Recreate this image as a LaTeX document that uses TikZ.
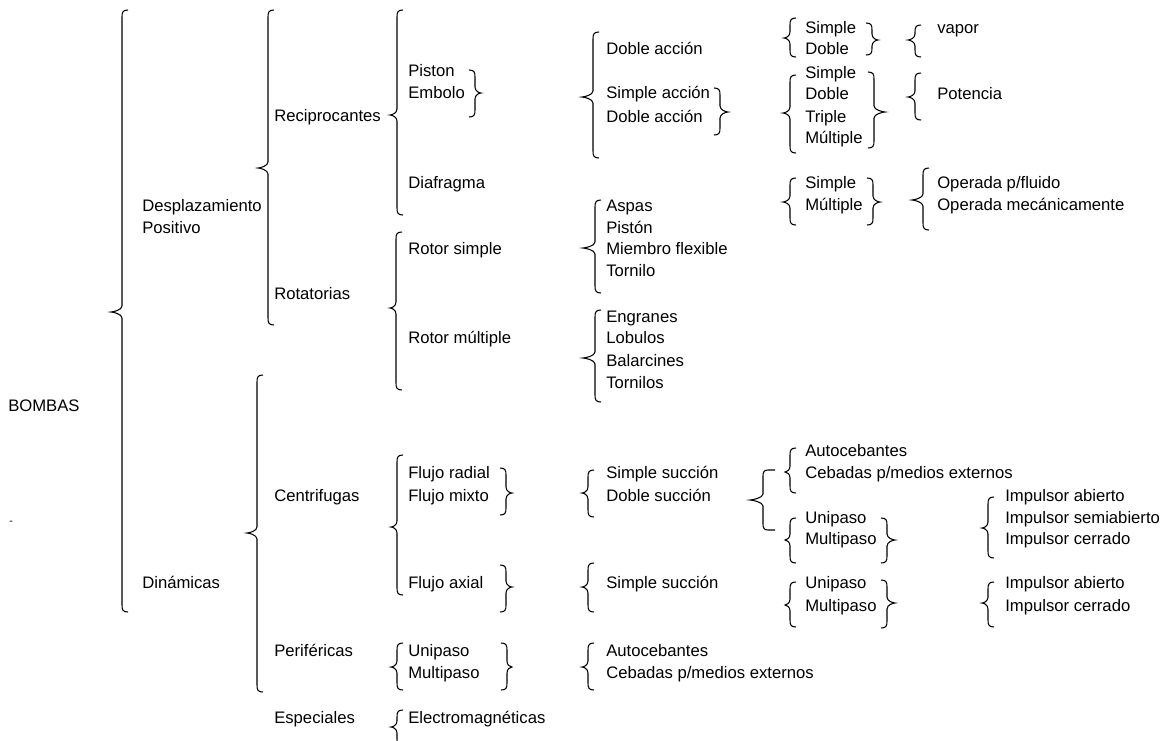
\documentclass[tikz,border=0pt]{standalone}
\usepackage{fontspec}
\setmainfont{Liberation Sans}
\newcommand\mybl[5]{%
 \draw[brc] ({#1+6},#3) .. controls ({#1+1},#3) and (#1,{#3+2}) .. (#1,{#3+7})
   -- (#1,{#4-6}) .. controls (#1,{#4-2}) and ({#2+2},#4) .. (#2,#4)
   .. controls ({#2+2},#4) and (#1,{#4+2}) .. (#1,{#4+6})
   -- (#1,{#5-7}) .. controls (#1,{#5-2}) and ({#1+1},#5) .. ({#1+6},#5);}
\newcommand\mybr[5]{%
 \draw[brc] ({#1-6},#3) .. controls ({#1-1},#3) and (#1,{#3+2}) .. (#1,{#3+7})
   -- (#1,{#4-6}) .. controls (#1,{#4-2}) and ({#2-2},#4) .. (#2,#4)
   .. controls ({#2-2},#4) and (#1,{#4+2}) .. (#1,{#4+6})
   -- (#1,{#5-7}) .. controls (#1,{#5-2}) and ({#1-1},#5) .. ({#1-6},#5);}
\newcommand\lb[4]{\node[lbl] (#1) at (#2,{#3+6}) {#4};}
\begin{document}
\begin{tikzpicture}[x=0.75pt,y=-0.75pt,
  brc/.style={line width=0.8pt,black},
  lbl/.style={anchor=base west,inner sep=0pt,font=\fontsize{12.5}{15}\selectfont}]
\useasboundingbox[fill=white] (0,0) rectangle (1167,740);
% level 0/1
\lb{bombas}{8}{405}{BOMBAS}
\node[lbl,font=\fontsize{8}{9}\selectfont] (dash) at (9,524) {-};
\lb{despl}{142}{205}{Desplazamiento}
\lb{posit}{142}{227}{Positivo}
\lb{dinam}{142}{582}{Dinámicas}
% level 2
\lb{recip}{274}{115}{Reciprocantes}
\lb{rotat}{274}{293}{Rotatorias}
\lb{centr}{274}{495}{Centrifugas}
\lb{perif}{274}{650}{Periféricas}
\lb{espec}{274}{717}{Especiales}
% level 3
\lb{pist}{408}{70}{Piston}
\lb{embo}{408}{92}{Embolo}
\lb{diaf}{408}{182}{Diafragma}
\lb{rsimp}{408}{248}{Rotor simple}
\lb{rmult}{408}{337}{Rotor múltiple}
\lb{frad}{408}{472}{Flujo radial}
\lb{fmix}{408}{495}{Flujo mixto}
\lb{fax}{408}{582}{Flujo axial}
\lb{puni}{408}{650}{Unipaso}
\lb{pmul}{408}{672}{Multipaso}
\lb{elec}{408}{717}{Electromagnéticas}
% level 4
\lb{dacc}{606}{48}{Doble acción}
\lb{sacc}{606}{92}{Simple acción}
\lb{daccb}{606}{116}{Doble acción}
\lb{aspas}{606}{205}{Aspas}
\lb{piston}{606}{227}{Pistón}
\lb{miem}{606}{248}{Miembro flexible}
\lb{torn}{606}{270}{Tornilo}
\lb{engr}{606}{316}{Engranes}
\lb{lobu}{606}{337}{Lobulos}
\lb{bala}{606}{360}{Balarcines}
\lb{torns}{606}{382}{Tornilos}
\lb{ssuc}{606}{472}{Simple succión}
\lb{dsuc}{606}{495}{Doble succión}
\lb{ssucb}{606}{582}{Simple succión}
\lb{pauto}{606}{650}{Autocebantes}
\lb{pceb}{606}{672}{Cebadas p/medios externos}
% level 5
\lb{s1}{805}{27}{Simple}
\lb{d1}{805}{48}{Doble}
\lb{s2}{805}{72}{Simple}
\lb{d2}{805}{93}{Doble}
\lb{t2}{805}{116}{Triple}
\lb{m2}{805}{137}{Múltiple}
\lb{s3}{805}{182}{Simple}
\lb{m3}{805}{204}{Múltiple}
\lb{cauto}{805}{450}{Autocebantes}
\lb{cceb}{805}{472}{Cebadas p/medios externos}
\lb{u1}{805}{517}{Unipaso}
\lb{mp1}{805}{538}{Multipaso}
\lb{u2}{805}{582}{Unipaso}
\lb{mp2}{805}{605}{Multipaso}
% level 6
\lb{vapor}{937}{27}{vapor}
\lb{pot}{937}{93}{Potencia}
\lb{opf}{937}{182}{Operada p/fluido}
\lb{opm}{937}{204}{Operada mecánicamente}
\lb{ia1}{1005}{495}{Impulsor abierto}
\lb{isa1}{1005}{517}{Impulsor semiabierto}
\lb{ic1}{1005}{538}{Impulsor cerrado}
\lb{ia2}{1005}{582}{Impulsor abierto}
\lb{ic2}{1005}{605}{Impulsor cerrado}
% left braces
\mybl{122}{111}{10}{312}{612}
\mybl{268}{258}{10}{168}{325}
\mybl{257}{247}{375}{533}{692}
\mybl{397}{390}{10}{115}{215}
\mybl{396}{390}{232}{308}{390}
\mybl{397}{391}{455}{527}{595}
\mybl{397}{391}{643}{667}{690}
\mybl{397}{391}{710}{727}{746}
\mybl{593}{582}{32}{97}{158}
\mybl{595}{583}{200}{248}{293}
\mybl{595}{583}{310}{358}{402}
\mybl{588}{582}{470}{493}{517}
\mybl{588}{582}{563}{587}{612}
\mybl{588}{582}{643}{667}{690}
\mybl{790}{784}{18}{38}{57}
\mybl{915}{908}{25}{40}{57}
\mybl{790}{783}{75}{113}{153}
\mybl{915}{908}{73}{97}{120}
\mybl{790}{783}{178}{202}{225}
\mybl{923}{912}{168}{200}{230}
\mybl{790}{785}{448}{472}{493}
\mybl{790}{785}{518}{540}{563}
\mybl{988}{982}{497}{528}{558}
\mybl{790}{785}{582}{605}{627}
\mybl{988}{982}{582}{603}{627}
% squared brace after Doble succion
\draw[brc] (775,470) -- (768,470) .. controls (764,470) and (763,472) .. (763,476)
  -- (763,494) .. controls (763,498) and (752,500) .. (750,500)
  .. controls (752,500) and (763,502) .. (763,506)
  -- (763,524) .. controls (763,528) and (764,530) .. (768,530) -- (775,530);
% right braces
\mybr{475}{481}{70}{93}{117}
\mybr{720}{728}{88}{112}{135}
\mybr{872}{878}{23}{40}{55}
\mybr{874}{885}{72}{112}{148}
\mybr{873}{880}{178}{202}{225}
\mybr{506}{512}{468}{493}{515}
\mybr{506}{512}{565}{587}{612}
\mybr{887}{895}{518}{540}{563}
\mybr{887}{895}{580}{603}{628}
\mybr{507}{512}{643}{667}{690}
\end{tikzpicture}
\end{document}
